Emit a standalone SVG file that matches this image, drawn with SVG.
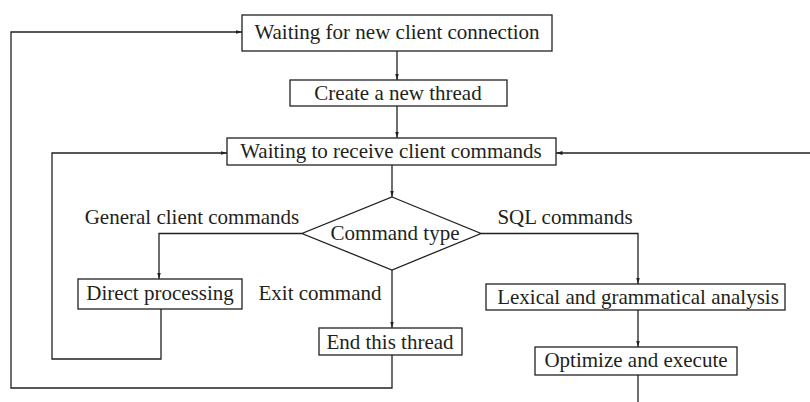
<svg xmlns="http://www.w3.org/2000/svg" width="810" height="402" viewBox="0 0 810 402">
  <style>
    .box { fill: #ffffff; stroke: #231f20; stroke-width: 1.3; }
    .lbl { font-family: "Liberation Serif", "Times New Roman", serif; font-size: 21px; fill: #231f20; text-anchor: middle; }
    .edge { fill: none; stroke: #231f20; stroke-width: 1.3; }
    .arr { marker-end: url(#head); }
  </style>
  <defs>
    <marker id="head" markerUnits="userSpaceOnUse" markerWidth="7" markerHeight="5" refX="6.5" refY="2.5" orient="auto">
      <path d="M0,0.6 L6.5,2.5 L0,4.4 z" fill="#231f20"/>
    </marker>
  </defs>
  <rect width="810" height="402" fill="#ffffff"/>

  <g id="connectors">
    <path class="edge arr" d="M397,51 V80"/>
    <path class="edge arr" d="M397,106 V138"/>
    <path class="edge arr" d="M392,165 V197"/>
    <path class="edge arr" d="M302,233.5 H159 V279"/>
    <path class="edge arr" d="M161,309 V359 H52 V153 H227"/>
    <path class="edge arr" d="M392,270 V328"/>
    <path class="edge arr" d="M392,355 V388 H11 V32 H242"/>
    <path class="edge arr" d="M481,233.5 H638 V284"/>
    <path class="edge arr" d="M638,310 V347"/>
    <path class="edge" d="M638,375 V402"/>
    <path class="edge arr" d="M810,153 H556"/>
  </g>

  <g id="wait-connection">
    <rect class="box" x="242" y="15" width="310" height="36"/>
    <text class="lbl" x="397" y="39">Waiting for new client connection</text>
  </g>
  <g id="create-thread">
    <rect class="box" x="290" y="80" width="217" height="26"/>
    <text class="lbl" x="398" y="100">Create a new thread</text>
  </g>
  <g id="wait-commands">
    <rect class="box" x="227" y="138" width="329" height="27"/>
    <text class="lbl" x="391" y="158">Waiting to receive client commands</text>
  </g>
  <g id="command-type">
    <polygon class="box" points="392,197 481,233.5 392,270 302,233.5"/>
    <text class="lbl" x="395" y="240">Command type</text>
  </g>
  <g id="direct-processing">
    <rect class="box" x="78" y="279" width="164" height="30"/>
    <text class="lbl" x="160" y="300">Direct processing</text>
  </g>
  <g id="end-thread">
    <rect class="box" x="319" y="328" width="143" height="27"/>
    <text class="lbl" x="390" y="349">End this thread</text>
  </g>
  <g id="lexical-analysis">
    <rect class="box" x="486" y="284" width="299" height="26"/>
    <text class="lbl" x="638" y="304">Lexical and grammatical analysis</text>
  </g>
  <g id="optimize-execute">
    <rect class="box" x="535" y="347" width="202" height="28"/>
    <text class="lbl" x="636" y="367">Optimize and execute</text>
  </g>

  <g id="edge-labels">
    <text class="lbl" x="192" y="224">General client commands</text>
    <text class="lbl" x="565" y="224">SQL commands</text>
    <text class="lbl" x="320" y="300">Exit command</text>
  </g>
</svg>
